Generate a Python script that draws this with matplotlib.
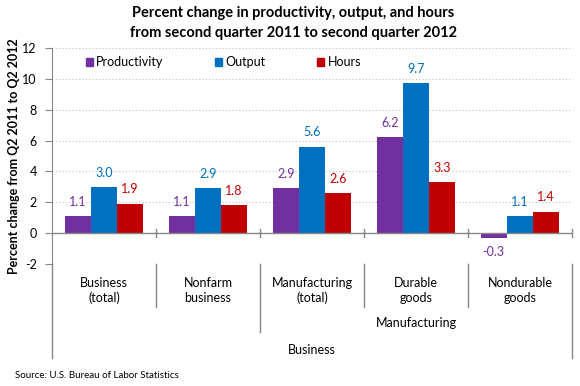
import matplotlib
matplotlib.use("Agg")
import numpy as np
import matplotlib.pyplot as plt
from matplotlib.patches import Patch

categories = ["Business\n(total)", "Nonfarm\nbusiness", "Manufacturing\n(total)", "Durable\ngoods", "Nondurable\ngoods"]
series_names = ["Productivity", "Output", "Hours"]
productivity = [1.1, 1.1, 2.9, 6.2, -0.3]
output = [3.0, 2.9, 5.6, 9.7, 1.1]
hours = [1.9, 1.8, 2.6, 3.3, 1.4]
y_ticks = [-2, 0, 2, 4, 6, 8, 10, 12]

colors = ["#7030A0", "#0070C0", "#C00000"]
plt.rcParams['font.family'] = ['Lato', 'DejaVu Sans']

W, H = 580, 386
fig = plt.figure(figsize=(W / 100, H / 100), dpi=100)
# plot area in pixels: x 52..572, y 48..264
ax = fig.add_axes([52 / W, 1 - 264 / H, 520 / W, 216 / H])

x = np.arange(len(categories))
width = 0.245
offsets = [-0.252, 0.0, 0.252]
for vals, off, col, name in zip([productivity, output, hours], offsets, colors, series_names):
    ax.bar(x + off, vals, width=width, color=col, label=name, zorder=3)
    for xi, v in zip(x, vals):
        if v >= 0:
            ax.annotate(f"{v:.1f}", (xi + off, v), xytext=(0, 6), textcoords="offset points",
                        ha="center", va="bottom", color=col, fontsize=9)
        else:
            ax.annotate(f"{v:.1f}", (xi + off, v), xytext=(0, -6), textcoords="offset points",
                        ha="center", va="top", color=col, fontsize=9)

ax.set_xlim(-0.5, len(categories) - 0.5)
ax.set_ylim(-2, 12)
ax.set_yticks(y_ticks)
ax.set_yticklabels([str(t) for t in y_ticks], fontsize=9)
ax.tick_params(axis="y", length=5, color="#868686", pad=6)
ax.set_xticks([])
for t in y_ticks:
    if t != 0:
        ax.axhline(t, color="#BFBFBF", linestyle=(0, (1, 2)), linewidth=0.8, zorder=0)
ax.axhline(0, color="#868686", linewidth=1.0, zorder=4)

for s in ["top", "right", "bottom"]:
    ax.spines[s].set_visible(False)
ax.spines["left"].set_color("#868686")
ax.spines["left"].set_bounds(-2, 12)

# category tick marks crossing the zero line
bounds = np.arange(len(categories) + 1) - 0.5
for b in bounds[1:]:
    ax.plot([b, b], [-0.28, 0.28], color="#868686", linewidth=1.0, clip_on=False, zorder=4)

# hierarchical category axis below the plot
trans = ax.get_xaxis_transform()
lw = 1.0
ax.plot([-0.5, -0.5], [0, -0.435], transform=trans, color="#868686", lw=lw, clip_on=False)
ax.plot([4.5, 4.5], [0, -0.435], transform=trans, color="#868686", lw=lw, clip_on=False)
ax.plot([1.5, 1.5], [0, -0.315], transform=trans, color="#868686", lw=lw, clip_on=False)
for b in [0.5, 2.5, 3.5]:
    ax.plot([b, b], [0, -0.2], transform=trans, color="#868686", lw=lw, clip_on=False)

for xi, c in zip(x, categories):
    ax.text(xi, -0.123, c, transform=trans, ha="center", va="center", fontsize=9, linespacing=1.3)
ax.text(3.0, -0.273, "Manufacturing", transform=trans, ha="center", va="center", fontsize=9)
ax.text(2.0, -0.398, "Business", transform=trans, ha="center", va="center", fontsize=9)

handles = [Patch(color=c) for c in colors]
ax.legend(handles, series_names, loc="upper left", bbox_to_anchor=(0.043, 1.015), ncol=3,
          frameon=False, fontsize=9, handlelength=0.6, handleheight=0.6,
          handletextpad=0.25, columnspacing=4.1)

fig.text(293 / W, 1 - 23 / H, "Percent change in productivity, output, and hours\nfrom second quarter 2011 to second quarter 2012",
         ha="center", va="center", fontsize=10.5, fontweight="bold", linespacing=1.6)
fig.text(14 / W, 1 - 156 / H, "Percent change from Q2 2011 to Q2 2012", rotation=90,
         ha="center", va="center", fontsize=9, fontweight="bold")
fig.text(15 / W, 1 - 376 / H, "Source: U.S. Bureau of Labor Statistics", ha="left", va="center", fontsize=7)

fig.savefig("out.png", dpi=100)
